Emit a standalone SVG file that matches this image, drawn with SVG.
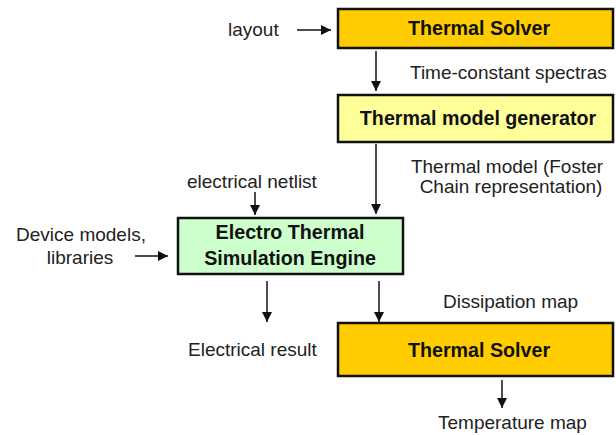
<svg xmlns="http://www.w3.org/2000/svg" width="616" height="435" viewBox="0 0 616 435">
<defs>
<style>
.box{stroke:#111;stroke-width:2.5}
.t{font-family:"Liberation Sans",Arial,sans-serif;font-size:19px;fill:#222}
.b{font-family:"Liberation Sans",Arial,sans-serif;font-size:19.7px;font-weight:bold;fill:#111;text-anchor:middle}
.c line{stroke:#111;stroke-width:1.5;marker-end:url(#ah)}
</style>
<marker id="ah" viewBox="0 0 10 10" refX="10" refY="5" markerWidth="10" markerHeight="10" markerUnits="userSpaceOnUse" orient="auto"><path d="M0,0 L10,5 L0,10 z" fill="#111"/></marker>
</defs>
<rect width="616" height="435" fill="#fff"/>
<g class="c">
<line x1="297" y1="30" x2="331" y2="30"/>
<line x1="376" y1="51" x2="376" y2="91"/>
<line x1="376" y1="144" x2="376" y2="214"/>
<line x1="255" y1="192" x2="255" y2="215"/>
<line x1="135" y1="256" x2="168" y2="256"/>
<line x1="267" y1="281" x2="267" y2="322"/>
<line x1="379" y1="281" x2="379" y2="322"/>
<line x1="502" y1="380" x2="502" y2="408"/>
</g>
<g id="ts1">
<rect class="box" x="338" y="9" width="275" height="39" fill="#FFCC00"/>
<text class="b" x="479" y="35">Thermal Solver</text>
</g>
<g id="tmg">
<rect class="box" x="338" y="95" width="275" height="47" fill="#FFFF99"/>
<text class="b" x="478" y="125">Thermal model generator</text>
</g>
<g id="ets">
<rect class="box" x="178" y="218" width="225" height="56" fill="#CCFFCC"/>
<text class="b" x="290" y="239">Electro Thermal</text>
<text class="b" x="290" y="265">Simulation Engine</text>
</g>
<g id="ts2">
<rect class="box" x="338" y="323" width="275" height="53" fill="#FFCC00"/>
<text class="b" x="479" y="357">Thermal Solver</text>
</g>
<g id="labels">
<text class="t" x="228" y="36">layout</text>
<text class="t" x="410" y="79">Time-constant spectras</text>
<text class="t" x="507" y="173" text-anchor="middle">Thermal model (Foster</text>
<text class="t" x="511" y="193" text-anchor="middle">Chain representation)</text>
<text class="t" x="187" y="188">electrical netlist</text>
<text class="t" x="81" y="241" text-anchor="middle">Device models,</text>
<text class="t" x="80" y="264" text-anchor="middle">libraries</text>
<text class="t" x="443" y="308">Dissipation map</text>
<text class="t" x="188" y="356">Electrical result</text>
<text class="t" x="438" y="429">Temperature map</text>
</g>
</svg>
